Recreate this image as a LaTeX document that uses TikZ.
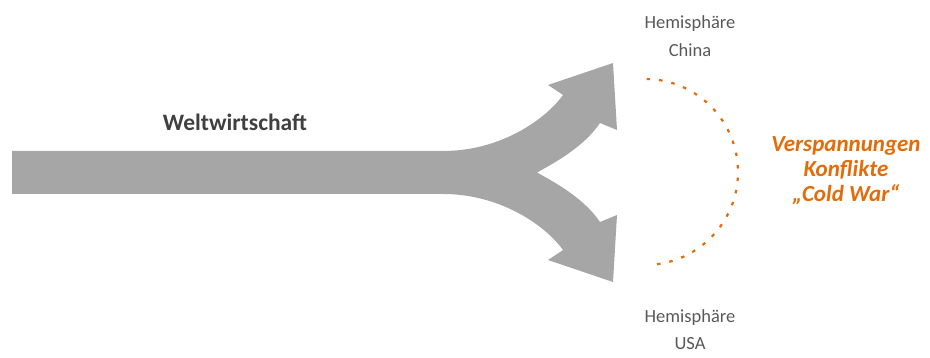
\documentclass[tikz,border=0pt]{standalone}
\usepackage{fontspec}
\setmainfont{Carlito}
\definecolor{arrowgray}{HTML}{A6A6A6}
\definecolor{hemigray}{HTML}{595959}
\definecolor{weltgray}{HTML}{404040}
\definecolor{konforange}{HTML}{E36C09}
\tikzset{
  hemi/.style={font={\fontsize{18.5}{28}\selectfont}, text=hemigray, align=center, inner sep=0pt, anchor=base},
  welt/.style={font={\fontsize{23.5}{26}\selectfont\bfseries}, text=weltgray, inner sep=0pt, anchor=base},
  konf/.style={font={\fontsize{23}{25}\selectfont\bfseries\itshape}, text=konforange, align=center, inner sep=0pt, anchor=base},
  dotarc/.style={draw=konforange, line width=2.2pt, dash pattern=on 3.5pt off 9pt}
}
\begin{document}
\begin{tikzpicture}[x=1pt,y=-1pt]
\useasboundingbox (0,0) rectangle (930,358);
% split arrow
\fill[arrowgray] (12,151) -- (443,151)
  .. controls (500,151) and (545,120) .. (563,95)
  -- (548,85) -- (613,63) -- (617,130) -- (600,123)
  .. controls (585,145) and (560,160) .. (537,172.5)
  .. controls (560,185) and (585,200) .. (600,222)
  -- (617,215) -- (613,282) -- (548,260) -- (563,250)
  .. controls (545,225) and (500,194) .. (443,194)
  -- (12,194) -- cycle;
% dotted arc
\coordinate (c) at (645,172);
\draw[dotarc] ([shift={(-89:93)}]c) arc[start angle=-89, end angle=87, radius=93];
% texts
\node[welt] (welt) at (235,131) {Weltwirtschaft};
\node[hemi] (china) at (690,57) {Hemisphäre\\China};
\node[hemi] (usa) at (690,350) {Hemisphäre\\USA};
\node[konf] (konf) at (846,202) {Verspannungen\\Konflikte\\„Cold War“};
\end{tikzpicture}
\end{document}
